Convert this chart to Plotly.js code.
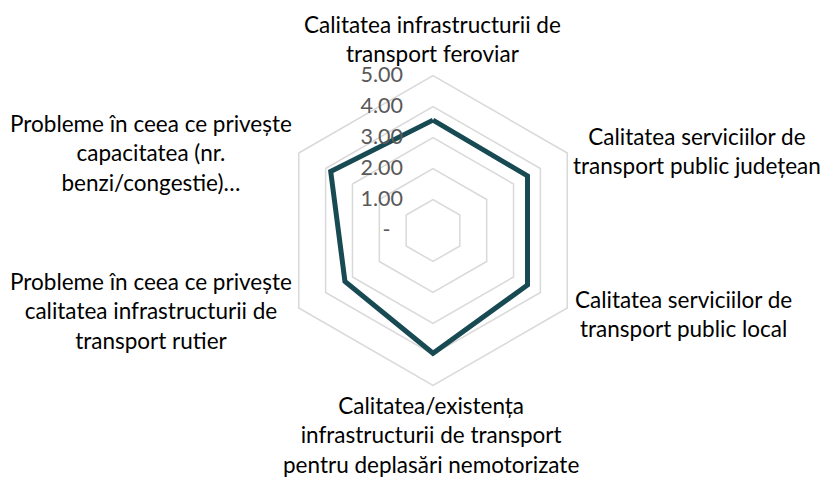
<!DOCTYPE html>
<html>
<head>
<meta charset="utf-8">
<script src="https://cdn.plot.ly/plotly-3.0.1.min.js"></script>
<style>
html,body{margin:0;padding:0;background:#fff;}
#chart{width:821px;height:477px;}
</style>
</head>
<body>
<div id="chart"></div>
<script>
var categories = [
  "Calitatea infrastructurii de<br>transport feroviar",
  "Calitatea serviciilor de<br>transport public județean",
  "Calitatea serviciilor de<br>transport public local",
  "Calitatea/existența<br>infrastructurii de transport<br>pentru deplasări nemotorizate",
  "Probleme în ceea ce privește<br>calitatea infrastructurii de<br>transport rutier",
  "Probleme în ceea ce privește<br>capacitatea (nr.<br>benzi/congestie)…"
];
var values = [3.56, 3.52, 3.52, 3.96, 3.28, 3.81];
var tickValues = [0, 1, 2, 3, 4, 5];
var tickLabels = ["-\u2007", "1.00", "2.00", "3.00", "4.00", "5.00"];

var W = 821, H = 477;
var cx = 433, cy = 230.5, R = 155;

var thetaKeys = categories.map(function(c, i){ return "c" + i; });

var trace = {
  type: "scatterpolar",
  r: values.concat([values[0]]),
  theta: thetaKeys.concat([thetaKeys[0]]),
  mode: "lines",
  line: {color: "#174a53", width: 5, shape: "linear"},
  hoverinfo: "skip",
  showlegend: false
};

// label anchor positions (pixels), one per category
var labelPos = [[432, 39], [697, 151], [683, 314], [431, 435], [151, 311], [151, 153]];
var annotations = categories.map(function(c, i){
  return {
    text: c, xref: "paper", yref: "paper",
    x: labelPos[i][0] / W, y: 1 - labelPos[i][1] / H,
    xanchor: "center", yanchor: "middle", align: "center",
    showarrow: false,
    font: {family: "Lato, 'Noto Sans', sans-serif", size: 22.5, color: "#000000"}
  };
});

var layout = {
  width: W, height: H,
  margin: {l: 0, r: 0, t: 0, b: 0},
  paper_bgcolor: "#ffffff",
  plot_bgcolor: "#ffffff",
  showlegend: false,
  polar: {
    domain: {x: [(cx - R) / W, (cx + R) / W], y: [(H - cy - R) / H, (H - cy + R) / H]},
    gridshape: "linear",
    bgcolor: "rgba(0,0,0,0)",
    angularaxis: {
      type: "category",
      categoryarray: thetaKeys,
      direction: "clockwise",
      rotation: 90,
      showgrid: false,
      showticklabels: false,
      ticks: "",
      showline: true,
      linecolor: "#d9d9d9",
      linewidth: 1.5
    },
    radialaxis: {
      range: [0, 5],
      angle: 90,
      tickangle: 90,
      side: "counterclockwise",
      tickmode: "array",
      tickvals: tickValues,
      ticktext: tickLabels,
      showline: false,
      showgrid: true,
      gridcolor: "#d9d9d9",
      gridwidth: 1.5,
      ticks: "outside",
      ticklen: 22,
      tickcolor: "rgba(0,0,0,0)",
      tickfont: {family: "Lato, 'Noto Sans', sans-serif", size: 21.5, color: "#595959"}
    }
  },
  annotations: annotations
};

Plotly.newPlot("chart", [trace], layout, {displayModeBar: false, staticPlot: true});
</script>
</body>
</html>
